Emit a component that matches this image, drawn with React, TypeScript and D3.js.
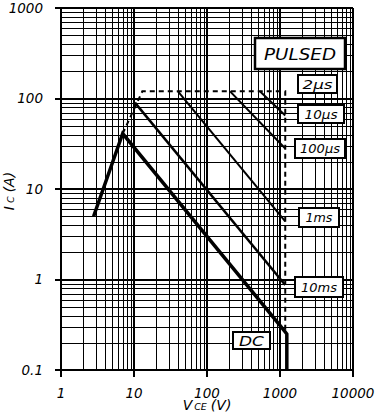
import React from 'react';
import * as d3 from 'd3';

const xTickValues = [1, 10, 100, 1000, 10000];
const xTickLabels = ['1', '10', '100', '1000', '10000'];
const yTickValues = [0.1, 1, 10, 100, 1000];
const yTickLabels = ['0.1', '1', '10', '100', '1000'];

// DC safe operating area
const dcVce = [2.8, 7, 1150, 1240, 1240];
const dcIc = [5, 41, 0.27, 0.25, 0.1];

// Pulsed boundary (2 µs)
const pulsedVce = [7, 13, 1180, 1180];
const pulsedIc = [41, 120, 120, 0.27];

const ms10Vce = [10.3, 1180];
const ms10Ic = [90, 0.87];
const ms1Vce = [40, 1180];
const ms1Ic = [120, 4.4];
const us100Vce = [207, 1180];
const us100Ic = [120, 28];
const us10Vce = [530, 1180];
const us10Ic = [120, 65];

const labelTexts = ['PULSED', '2\u03bcs', '10\u03bcs', '100\u03bcs', '1ms', '10ms', 'DC'];
const labelVce = [1880, 3265, 3645, 3530, 3420, 3420, 407];
const labelIc = [312, 144, 67.4, 28, 4.9, 0.83, 0.212];

const W = 382;
const H = 419;
const FONT = 'DejaVu Sans, sans-serif';

export default function App() {
  const x = d3.scaleLog().domain([1, 10000]).range([61, 353]);
  const y = d3.scaleLog().domain([0.1, 1000]).range([370, 8]);

  const gridX = x.ticks();
  const gridY = y.ticks();
  const isMajor = (v: number) => Math.abs(Math.log10(v) - Math.round(Math.log10(v))) < 1e-9;

  const line = d3
    .line<[number, number]>()
    .x((d) => x(d[0]))
    .y((d) => y(d[1]));
  const zip = (a: number[], b: number[]) => a.map((v, i) => [v, b[i]] as [number, number]);

  const boxW = [90, 39, 46, 50, 40, 48, 37];
  const boxH = [31, 18, 18, 19, 19, 20, 17];
  const boxFont = [16, 13, 13, 13, 13, 13, 14];
  const boxTextLen = [72, 30, 33, 40, 27, 36, 25];
  const boxStroke = [2.5, 2, 2, 2, 2, 2, 2];

  const x0 = x.range()[0];
  const x1 = x.range()[1];
  const y0 = y.range()[0];
  const y1 = y.range()[1];

  return (
    <svg width={W} height={H} style={{ position: 'absolute', left: 0, top: 0, background: '#fff' }}>
      <rect x={0} y={0} width={W} height={H} fill="#fff" />
      {/* grid */}
      <g>
        {gridX.map((v, i) => {
          const major = isMajor(v);
          const px = major ? Math.round(x(v)) : Math.round(x(v)) + 0.5;
          return (
            <line
              key={'gx' + i}
              x1={px}
              x2={px}
              y1={y1}
              y2={major ? y0 + 7 : y0}
              stroke="#000"
              strokeWidth={major ? 2 : 1}
            />
          );
        })}
        {gridY.map((v, i) => {
          const major = isMajor(v);
          const py = major ? Math.round(y(v)) : Math.round(y(v)) + 0.5;
          return (
            <line
              key={'gy' + i}
              x1={major ? x0 - 6 : x0}
              x2={x1}
              y1={py}
              y2={py}
              stroke="#000"
              strokeWidth={major ? 2 : 1}
            />
          );
        })}
      </g>
      {/* curves */}
      <g fill="none" stroke="#000" strokeLinejoin="miter">
        <path d={line(zip(pulsedVce, pulsedIc)) || ''} strokeWidth={2} strokeDasharray="5,4" />
        <path d={line(zip(ms10Vce, ms10Ic)) || ''} strokeWidth={2.5} />
        <path d={line(zip(ms1Vce, ms1Ic)) || ''} strokeWidth={2} />
        <path d={line(zip(us100Vce, us100Ic)) || ''} strokeWidth={2} />
        <path d={line(zip(us10Vce, us10Ic)) || ''} strokeWidth={2} />
        <path d={line(zip(dcVce, dcIc)) || ''} strokeWidth={3.5} />
      </g>
      {/* labels */}
      <g>
        {labelTexts.map((t, i) => {
          const cx = x(labelVce[i]);
          const cy = y(labelIc[i]);
          return (
            <g key={'lb' + i}>
              <rect
                x={Math.round(cx - boxW[i] / 2)}
                y={Math.round(cy - boxH[i] / 2)}
                width={boxW[i]}
                height={boxH[i]}
                fill="#fff"
                stroke="#000"
                strokeWidth={boxStroke[i]}
              />
              <text
                x={cx}
                y={cy}
                dy="0.36em"
                textAnchor="middle"
                fontFamily={FONT}
                fontStyle="italic"
                fontSize={boxFont[i]}
                fill="#000"
                textLength={boxTextLen[i]}
                lengthAdjust="spacingAndGlyphs"
              >
                {t}
              </text>
            </g>
          );
        })}
      </g>
      {/* tick labels */}
      <g fontFamily={FONT} fontStyle="italic" fontSize={13.5} fill="#000">
        {xTickValues.map((v, i) => (
          <text key={'xl' + i} x={x(v)} y={397.5} textAnchor="middle">
            {xTickLabels[i]}
          </text>
        ))}
        {yTickValues.map((v, i) => (
          <text key={'yl' + i} x={43} y={y(v)} dy="0.36em" textAnchor="end">
            {yTickLabels[i]}
          </text>
        ))}
      </g>
      {/* axis titles */}
      <text x={207} y={410} textAnchor="middle" fontFamily={FONT} fontStyle="italic" fontSize={14} fill="#000">
        V<tspan fontSize={9.5} dx={2}>CE</tspan>
        <tspan dx={4}>(V)</tspan>
      </text>
      <text
        transform="translate(14,191) rotate(-90)"
        textAnchor="middle"
        fontFamily={FONT}
        fontStyle="italic"
        fontSize={14}
        fill="#000"
      >
        I<tspan fontSize={9.5} dx={3}>C</tspan>
        <tspan dx={4}>(A)</tspan>
      </text>
    </svg>
  );
}
